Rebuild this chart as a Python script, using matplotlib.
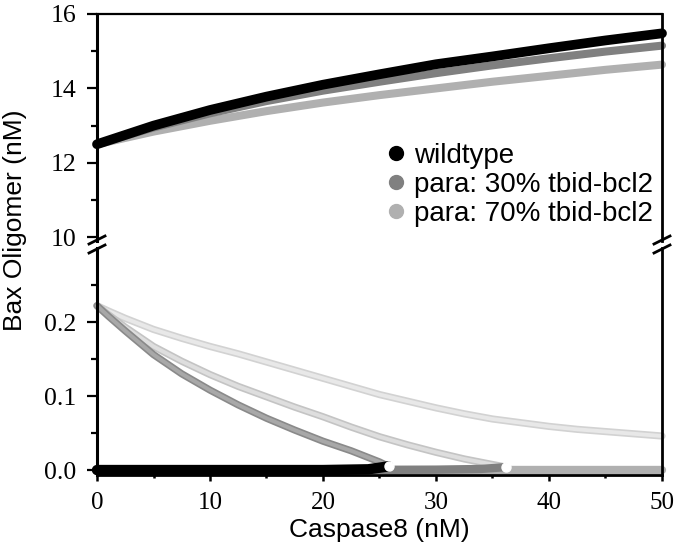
import matplotlib
matplotlib.use('Agg')
import matplotlib.pyplot as plt
from matplotlib.lines import Line2D
from matplotlib.ticker import MultipleLocator, FixedLocator, FormatStrFormatter

# данные
x_top = [0, 5, 10, 15, 20, 25, 30, 35, 40, 45, 50]
wt_top = [12.5, 13.0, 13.42, 13.78, 14.1, 14.38, 14.65, 14.86, 15.08, 15.29, 15.48]
p30_top = [12.5, 12.95, 13.33, 13.66, 13.94, 14.18, 14.41, 14.62, 14.81, 14.99, 15.15]
p70_top = [12.5, 12.84, 13.13, 13.39, 13.62, 13.82, 14.0, 14.18, 14.34, 14.5, 14.64]

# неустойчивые ветви
wt_ux = [0, 1, 2.5, 5, 7.5, 10, 12.5, 15, 17.5, 20, 22.5, 24, 25, 25.8]
wt_uy = [0.222, 0.208, 0.188, 0.156, 0.130, 0.108, 0.088, 0.070, 0.054, 0.039,
         0.026, 0.017, 0.011, 0.005]
p30_ux = [0, 1, 2.5, 5, 7.5, 10, 12.5, 15, 17.5, 20, 22.5, 25, 27.5, 30, 32.5, 34.5, 36.2]
p30_uy = [0.222, 0.210, 0.193, 0.167, 0.147, 0.129, 0.113, 0.099, 0.085, 0.072,
          0.058, 0.045, 0.034, 0.024, 0.015, 0.009, 0.004]
p70_ux = [0, 1, 2.5, 5, 7.5, 10, 12.5, 15, 17.5, 20, 22.5, 25, 27.5, 30, 32.5, 35,
          37.5, 40, 42.5, 45, 47.5, 50]
p70_uy = [0.222, 0.215, 0.205, 0.190, 0.178, 0.167, 0.157, 0.146, 0.135, 0.124, 0.113,
          0.102, 0.093, 0.084, 0.076, 0.069, 0.064, 0.059, 0.055, 0.052, 0.049, 0.046]

# устойчивые нижние ветви
wt_sx = [0, 10, 20, 24, 25.8]
wt_sy = [0, 0, 0, 0.001, 0.005]
p30_sx = [0, 10, 20, 30, 34, 36.2]
p30_sy = [0, 0, 0, 0.0005, 0.0015, 0.004]
p70_sx = [0, 10, 20, 30, 40, 50]
p70_sy = [0, 0, 0, 0, 0, 0]

fold_x = [25.8, 36.2]
fold_y = [0.005, 0.004]

labels = ['wildtype', 'para: 30% tbid-bcl2', 'para: 70% tbid-bcl2']
colors = ['black', '#808080', '#b0b0b0']

W, H = 680, 547
fig = plt.figure(figsize=(6.8, 5.47), dpi=100)
L, R = 97 / W, 662 / W
ax1 = fig.add_axes([L, 1 - 241 / H, R - L, (241 - 14) / H])
ax2 = fig.add_axes([L, 1 - 474.5 / H, R - L, (474.5 - 248) / H])

# верхняя панель
ax1.plot(x_top, p70_top, color=colors[2], lw=5.8, solid_capstyle='round', clip_on=False)
ax1.plot(x_top, p30_top, color=colors[1], lw=5.8, solid_capstyle='round', clip_on=False)
ax1.plot(x_top, wt_top, color=colors[0], lw=7, solid_capstyle='round', clip_on=False)

# нижняя панель: неустойчивые ветви (полосы)
ax2.plot(p70_ux, p70_uy, color='#d2d2d2', lw=5.2, solid_capstyle='round', clip_on=False)
ax2.plot(p70_ux, p70_uy, color='#e8e8e8', lw=2.8, solid_capstyle='round', clip_on=False)
ax2.plot(p30_ux, p30_uy, color='#c4c4c4', lw=5.2, solid_capstyle='round', clip_on=False)
ax2.plot(p30_ux, p30_uy, color='#dedede', lw=2.8, solid_capstyle='round', clip_on=False)
ax2.plot(wt_ux, wt_uy, color='#8a8a8a', lw=5.2, solid_capstyle='round', clip_on=False)
ax2.plot(wt_ux, wt_uy, color='#a8a8a8', lw=2.8, solid_capstyle='round', clip_on=False)

# устойчивые ветви у нуля
ax2.plot(p70_sx, p70_sy, color=colors[2], lw=6, solid_capstyle='round', clip_on=False)
ax2.plot(p30_sx, p30_sy, color=colors[1], lw=6, solid_capstyle='round', clip_on=False)
ax2.plot(wt_sx, wt_sy, color=colors[0], lw=7.5, solid_capstyle='round', clip_on=False)
ax2.plot(fold_x, fold_y, 'o', color='white', ms=6.5, mec='white', zorder=5, clip_on=False)

ax1.set_xlim(0, 50)
ax2.set_xlim(0, 50)
ax1.set_ylim(9.9, 16)
ax2.set_ylim(-0.006, 0.3)

serif = 'Liberation Serif'
sans = 'Liberation Sans'

ax1.spines['bottom'].set_visible(False)
ax2.spines['top'].set_visible(False)
for ax in (ax1, ax2):
    ax.spines['left'].set_linewidth(2.2)
    ax.spines['right'].set_linewidth(2.0)
    ax.tick_params(axis='y', which='major', direction='out', length=7, width=1.6,
                   labelsize=18.5, pad=8, right=False)
    ax.tick_params(axis='y', which='minor', direction='out', length=4, width=1.6, right=False)
ax1.spines['top'].set_linewidth(1.6)
ax2.spines['bottom'].set_linewidth(2.0)

ax1.yaxis.set_major_locator(MultipleLocator(2))
ax1.yaxis.set_minor_locator(MultipleLocator(1))
ax1.tick_params(axis='x', which='both', bottom=False, top=False, labelbottom=False)

ax2.yaxis.set_major_locator(FixedLocator([0.0, 0.1, 0.2]))
ax2.yaxis.set_minor_locator(FixedLocator([0.05, 0.15, 0.25]))
ax2.yaxis.set_major_formatter(FormatStrFormatter('%.1f'))
ax2.xaxis.set_major_locator(MultipleLocator(10))
ax2.xaxis.set_minor_locator(MultipleLocator(5))
ax2.tick_params(axis='x', which='major', direction='out', length=4.5, width=1.8,
                labelsize=18, pad=8, top=False)
ax2.tick_params(axis='x', which='minor', direction='out', length=2.5, width=1.8, top=False)

for ax in (ax1, ax2):
    for t in ax.get_xticklabels() + ax.get_yticklabels():
        t.set_fontfamily(serif)

ax2.set_xlabel('Caspase8 (nM)', fontsize=19, fontfamily=sans, labelpad=3)
fig.text(15 / W, 1 - 220 / H, 'Bax Oligomer (nM)', rotation=90, fontsize=19,
         fontfamily=sans, ha='center', va='center')

# значки разрыва оси
for xp in (97, 662):
    for yp in (240, 249):
        fig.add_artist(Line2D([(xp - 8) / W, (xp + 8) / W],
                              [1 - (yp + 4) / H, 1 - (yp - 4) / H],
                              transform=fig.transFigure, color='black', lw=2))

# легенда
handles = [Line2D([], [], ls='none', marker='o', ms=10, color=c) for c in colors]
leg = ax1.legend(handles, labels, loc='upper left', bbox_to_anchor=(382 / W, 1 - 143 / H),
                 bbox_transform=fig.transFigure, frameon=False,
                 prop={'family': sans, 'size': 20}, labelspacing=0.1,
                 handletextpad=0.15, handlelength=1.0, borderaxespad=0, borderpad=0)

fig.savefig('out.png', dpi=100)
